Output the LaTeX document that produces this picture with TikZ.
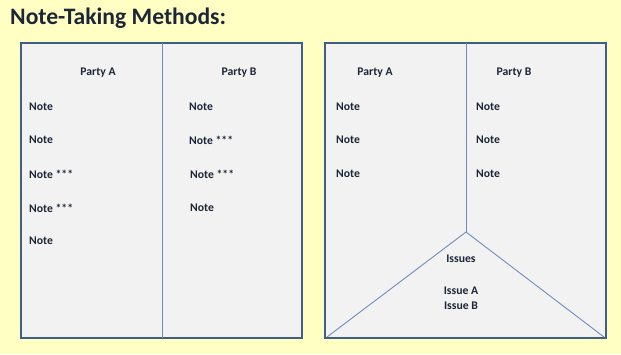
\documentclass[tikz,border=0pt]{standalone}
\usepackage{fontspec}
\setmainfont{Carlito}
\definecolor{bgyellow}{HTML}{FFFFC4}
\definecolor{boxfill}{HTML}{F2F2F2}
\definecolor{boxline}{HTML}{3F5E86}
\definecolor{divline}{HTML}{6C8EBF}
\definecolor{inktext}{HTML}{1C2636}
\tikzset{
  panel/.style={draw=boxline,line width=1.6pt,fill=boxfill},
  divider/.style={draw=divline,line width=0.9pt},
  label/.style={font=\bfseries\fontsize{11.7}{14}\selectfont,text=inktext,inner sep=0pt},
  note/.style={label,anchor=west}
}
\begin{document}
\begin{tikzpicture}[x=1pt,y=-1pt]
  \useasboundingbox[fill=bgyellow] (0,0) rectangle (621,354);
  \node[anchor=west,font=\bfseries\fontsize{23.6}{28}\selectfont,text=inktext,inner sep=0pt] (title) at (10,18) {Note-Taking Methods:};
  % left panel
  \draw[panel] (21,43) rectangle (302,338);
  \coordinate (ltop) at (162,43);
  \coordinate (lbot) at (162,338);
  \draw[divider] (ltop) -- (lbot);
  \node[label] (lpa) at (98,73) {Party A};
  \node[label] (lpb) at (239,73) {Party B};
  \node[note] (la1) at (29,107) {Note};
  \node[note] (la2) at (29,140) {Note};
  \node[note] (la3) at (29,174) {Note ***};
  \node[note] (la4) at (29,208) {Note ***};
  \node[note] (la5) at (29,241) {Note};
  \node[note] (lb1) at (189,107) {Note};
  \node[note] (lb2) at (189,140) {Note ***};
  \node[note] (lb3) at (190,174) {Note ***};
  \node[note] (lb4) at (190,208) {Note};
  % right panel
  \draw[panel] (325,43) rectangle (606,338);
  \coordinate (rtop) at (466,43);
  \coordinate (apex) at (466,232);
  \coordinate (rbl) at (327,337);
  \coordinate (rbr) at (604,337);
  \draw[divider] (rtop) -- (apex);
  \draw[divider] (rbl) -- (apex) -- (rbr);
  \node[label] (rpa) at (375,73) {Party A};
  \node[label] (rpb) at (514,73) {Party B};
  \node[note] (ra1) at (336,107) {Note};
  \node[note] (ra2) at (336,140) {Note};
  \node[note] (ra3) at (336,174) {Note};
  \node[note] (rb1) at (476,107) {Note};
  \node[note] (rb2) at (476,140) {Note};
  \node[note] (rb3) at (476,174) {Note};
  \node[label] (iss) at (461,259) {Issues};
  \node[label] (issa) at (461,291) {Issue A};
  \node[label] (issb) at (461,306) {Issue B};
\end{tikzpicture}
\end{document}
